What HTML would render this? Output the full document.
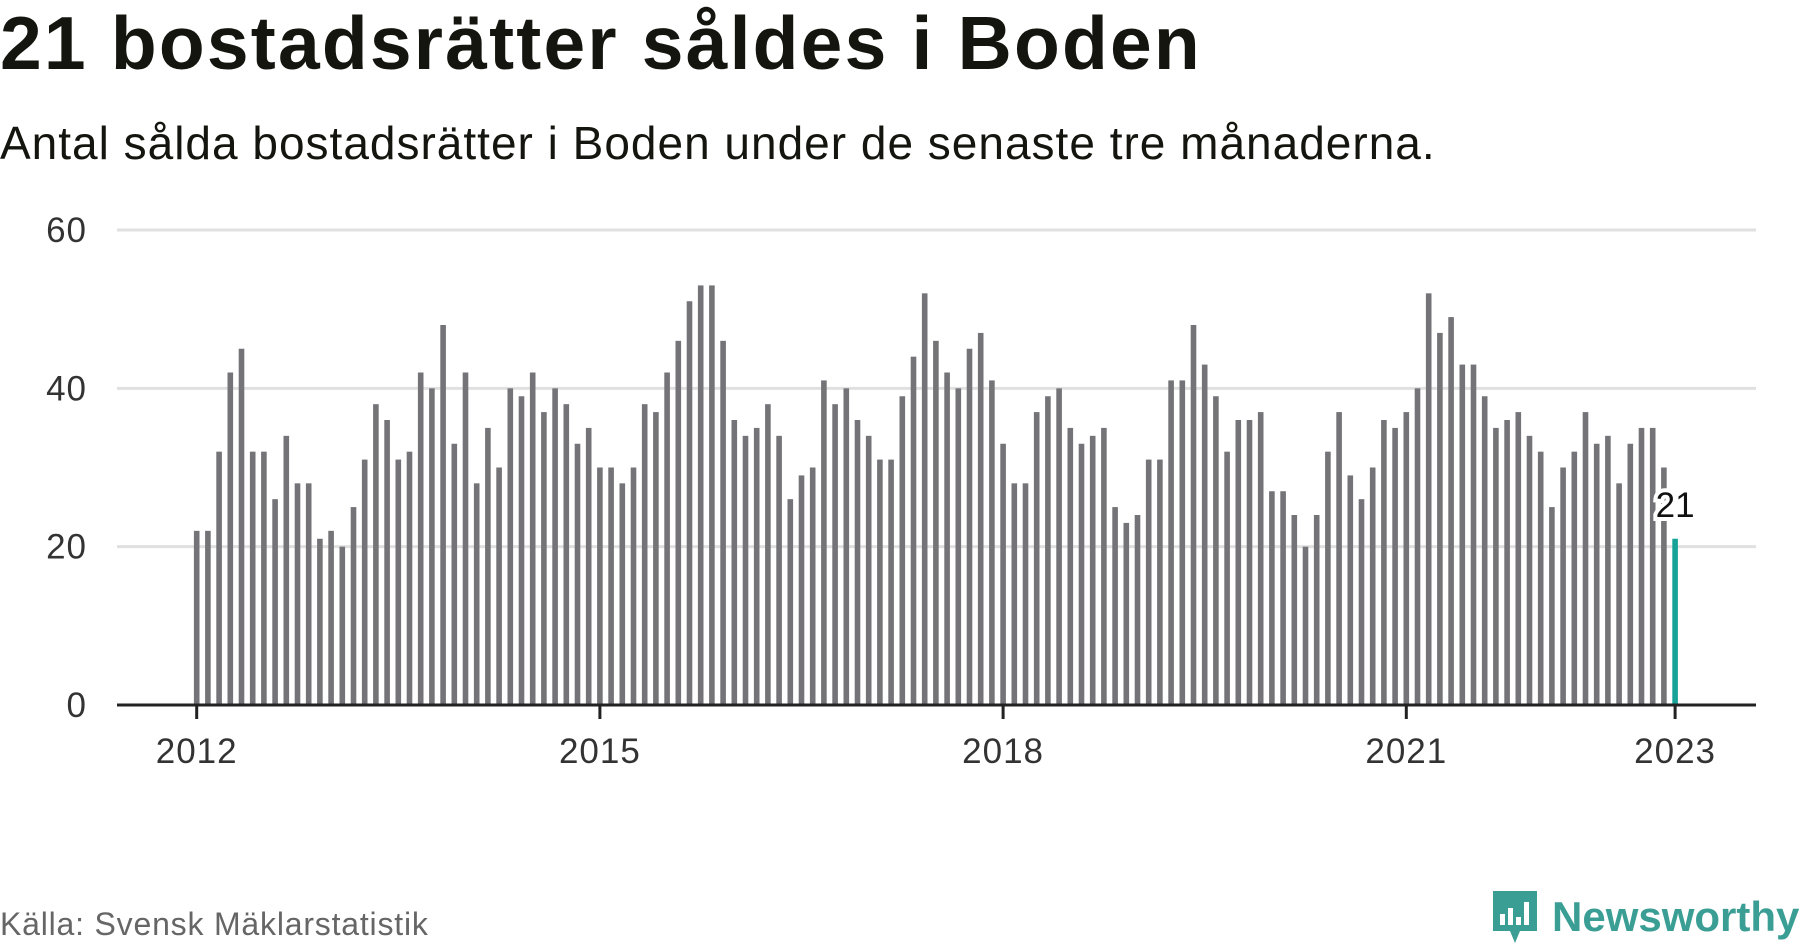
<!DOCTYPE html>
<html><head><meta charset="utf-8">
<style>
body{margin:0;background:#fff;width:1800px;height:948px;overflow:hidden;font-family:"Liberation Sans",sans-serif;}
#title{position:absolute;left:0;top:0px;font-size:75px;font-weight:bold;color:#15150f;letter-spacing:2.2px;white-space:nowrap;}
#subtitle{position:absolute;left:0;top:116px;font-size:46px;color:#15150f;letter-spacing:1px;white-space:nowrap;}
#source{position:absolute;left:0;top:906px;font-size:32px;color:#666;letter-spacing:0.8px;white-space:nowrap;}
#logo{position:absolute;left:1490px;top:888px;display:flex;align-items:center;}
#logo span{font-size:42px;font-weight:bold;color:#3a9e94;margin-left:12px;}
svg{position:absolute;left:0;top:0;}
</style></head><body>
<div id="title">21 bostadsrätter såldes i Boden</div>
<div id="subtitle">Antal sålda bostadsrätter i Boden under de senaste tre månaderna.</div>
<svg id="chart" width="1800" height="948"></svg>
<div id="source">Källa: Svensk Mäklarstatistik</div>
<div id="logo">
<svg width="50" height="58" viewBox="0 0 50 58" style="position:static">
<path d="M3 3h44v40H30l-5 12-5-12H3z" fill="#3a9e94"/>
<rect x="10" y="26" width="5" height="11" fill="#fff"/><rect x="18" y="20" width="5" height="17" fill="#fff"/><rect x="26" y="29" width="5" height="8" fill="#fff"/><rect x="34" y="14" width="5" height="23" fill="#fff"/>
</svg><span>Newsworthy</span></div>
<script>
const values=[22,22,32,42,45,32,32,26,34,28,28,21,
22,20,25,31,38,36,31,32,42,40,48,33,
42,28,35,30,40,39,42,37,40,38,33,35,
30,30,28,30,38,37,42,46,51,53,53,46,
36,34,35,38,34,26,29,30,41,38,40,36,
34,31,31,39,44,52,46,42,40,45,47,41,
33,28,28,37,39,40,35,33,34,35,25,23,
24,31,31,41,41,48,43,39,32,36,36,37,
27,27,24,20,24,32,37,29,26,30,36,35,
37,40,52,47,49,43,43,39,35,36,37,34,
32,25,30,32,37,33,34,28,33,35,35,30,
21];
const yTicks=[0,20,40,60];
const xTickYears=[2012,2015,2018,2021,2023];
const startYear=2012;
const NS="http://www.w3.org/2000/svg";
const svg=document.getElementById('chart');
const x0=196.7,dx=11.2,yZero=705,y60=230,left=117,right=1756;
function xs(i){return x0+i*dx;}
function ys(v){return yZero-(v/60)*(yZero-y60);}
function mk(t,a){const e=document.createElementNS(NS,t);for(const k in a)e.setAttribute(k,a[k]);svg.appendChild(e);return e;}
yTicks.forEach(v=>{
 if(v>0){const g=mk('line',{x1:left,x2:right,y1:ys(v),y2:ys(v),stroke:'#e0e0e0','stroke-width':3});
 
 }
 const t=mk('text',{x:87,y:ys(v)+12,'text-anchor':'end','font-size':35,fill:'#333','letter-spacing':1,'font-family':'Liberation Sans, sans-serif'});
 t.textContent=v;
 
 
});
values.forEach((v,i)=>{
 const last=i===values.length-1;
 const r=mk('rect',{x:xs(i)-2.8,y:ys(v),width:5.6,height:yZero-ys(v),fill:last?'#17a398':'#737378'});
 
 
});
const ax=mk('line',{x1:left,x2:right,y1:yZero,y2:yZero,stroke:'#222','stroke-width':3});


xTickYears.forEach(yr=>{
 const i=(yr-startYear)*12;
 const tk=mk('line',{x1:xs(i),x2:xs(i),y1:yZero,y2:yZero+14,stroke:'#222','stroke-width':3});
 
 
 const t=mk('text',{x:xs(i),y:763,'text-anchor':'middle','font-size':35,fill:'#333','letter-spacing':1,'font-family':'Liberation Sans, sans-serif'});
 t.textContent=yr;
 
 
});
const li=values.length-1;
const lbl=mk('text',{x:xs(li),y:ys(values[li])-22,'text-anchor':'middle','font-size':35,fill:'#111',stroke:'#fff','stroke-width':8,'paint-order':'stroke','font-family':'Liberation Sans, sans-serif'});
lbl.textContent=values[li];


</script>
</body></html>
